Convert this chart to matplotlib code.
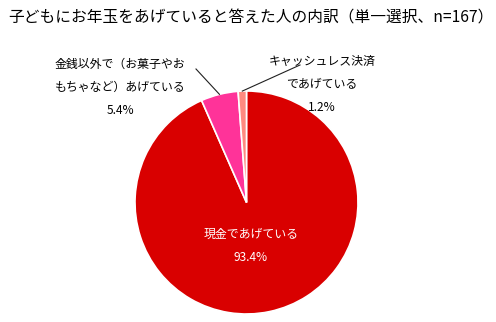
import numpy as np
import matplotlib
matplotlib.use('Agg')
import matplotlib.pyplot as plt

plt.rcParams['font.family'] = ['Noto Sans CJK JP', 'DejaVu Sans']

title = '子どもにお年玉をあげていると答えた人の内訳（単一選択、n=167）'
labels = ['現金であげている', '金銭以外で（お菓子やお\nもちゃなど）あげている', 'キャッシュレス決済\nであげている']
shares = [93.4, 5.4, 1.2]
colors = ['#D90000', '#FF3399', '#FF8A80']

W, H = 496, 322
fig = plt.figure(figsize=(W / 100, H / 100), dpi=100)
ax = fig.add_axes([0, 0, 1, 1])

cx, cy, r = 246.5, H - 202.5, 111.5
wedges, _ = ax.pie(shares, colors=colors, startangle=90, counterclock=False,
                   center=(cx, cy), radius=r, frame=True,
                   wedgeprops=dict(edgecolor='white', linewidth=1.2))
ax.set_xlim(0, W)
ax.set_ylim(0, H)
ax.set_aspect('equal')
ax.axis('off')

fig.text(8 / W, 1 - 18 / H, title, fontsize=11.3, ha='left', va='center')

# inside label for the big slice
ax.text(251, H - 246, f'{labels[0]}\n{shares[0]}%', color='white', fontsize=8.6,
        ha='center', va='center', linespacing=2.0)

# outside labels with leader lines
outside = [(1, (120, H - 87), (196, H - 69)),
           (2, (322, H - 84), (300, H - 65))]
for i, (tx, ty), (lx, ly) in outside:
    w = wedges[i]
    mid = np.deg2rad((w.theta1 + w.theta2) / 2)
    ex, ey = cx + r * np.cos(mid), cy + r * np.sin(mid)
    ax.plot([lx, ex], [ly, ey], color='#202020', linewidth=0.8)
    ax.text(tx, ty, f'{labels[i]}\n{shares[i]}%', fontsize=8.6,
            ha='center', va='center', linespacing=2.0)

fig.savefig('out.png', dpi=100)
